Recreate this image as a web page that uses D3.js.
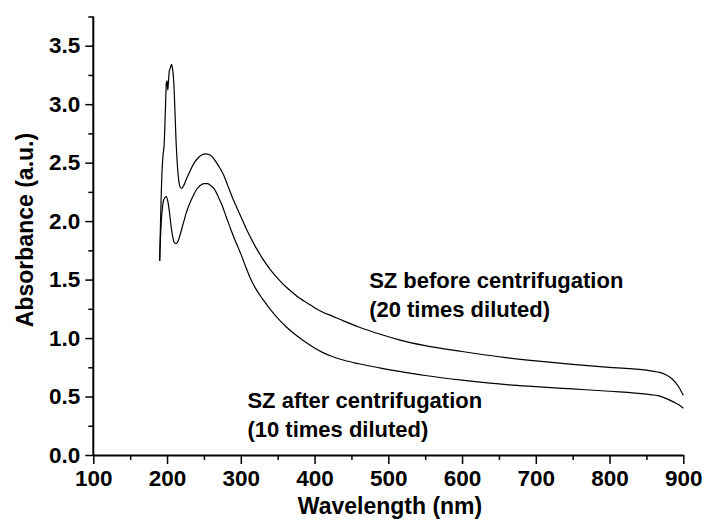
<!DOCTYPE html>
<html>
<head>
<meta charset="utf-8">
<script src="https://cdn.jsdelivr.net/npm/d3@7"></script>
<style>
  body { margin: 0; background: #fff; }
  svg text { font-family: Arial, "Liberation Sans", sans-serif; font-weight: bold; fill: #000; }
</style>
</head>
<body>
<div class="chart"></div>
<script>
// ---------------- DATA

// SZ before centrifugation (20 times diluted)
var wlBefore = [190,191,192,193,194.5,196,197,198,199,200,201,202,203,204.5,206,207.5,209,210.5,212,214,216,218,220,223,227,232,237,242,247,252,257,262,267,272,277,282,290,295,300,310,320,330,340,350,360,370,380,390,400,410,425,440,460,488,515,550,600,650,700,750,800,850,865,875,885,893,900];
var absBefore = [1.66,1.95,2.2,2.4,2.56,2.65,2.8,3.0,3.18,3.2,3.12,3.2,3.28,3.31,3.34,3.3,3.2,2.98,2.72,2.48,2.34,2.29,2.28,2.31,2.37,2.44,2.5,2.54,2.565,2.575,2.57,2.545,2.5,2.45,2.39,2.31,2.18,2.11,2.04,1.9,1.78,1.675,1.585,1.51,1.445,1.39,1.34,1.3,1.26,1.225,1.185,1.145,1.095,1.035,0.985,0.935,0.885,0.84,0.805,0.775,0.75,0.725,0.71,0.69,0.65,0.59,0.51];

// SZ after centrifugation (10 times diluted)
var wlAfter = [190,191,192,193.5,195,197,199,201,203,205,207,209,211,213,215,218,222,226,230,235,240,245,250,255,260,265,270,275,280,285,290,295,300,306,312,320,330,340,350,360,370,380,390,400,410,425,440,460,488,515,550,600,664,700,750,800,850,867,878,888,895,900];
var absAfter = [1.66,1.85,1.98,2.1,2.17,2.2,2.21,2.17,2.09,1.98,1.89,1.83,1.81,1.81,1.83,1.89,1.98,2.07,2.14,2.21,2.27,2.305,2.32,2.32,2.3,2.265,2.2,2.13,2.04,1.955,1.87,1.795,1.72,1.62,1.525,1.425,1.33,1.245,1.17,1.105,1.05,1.0,0.955,0.915,0.88,0.84,0.81,0.78,0.745,0.715,0.68,0.64,0.6,0.585,0.565,0.545,0.52,0.505,0.48,0.45,0.425,0.4];

var xTicks = [100,200,300,400,500,600,700,800,900];
var xMinor = [150,250,350,450,550,650,750,850];
var yTicks = [0,0.5,1,1.5,2,2.5,3,3.5];
var yMinor = [0.25,0.75,1.25,1.75,2.25,2.75,3.25,3.75];

var labels = [
  {wl: 474, a: 1.425, lines: ["SZ before centrifugation", "(20 times diluted)"]},
  {wl: 309, a: 0.4, lines: ["SZ after centrifugation", "(10 times diluted)"]}
];

// ---------------- SVG

var width = 706, height = 520;
var svg = d3.select(".chart").append("svg")
  .attr("width", width)
  .attr("height", height);

var x = d3.scaleLinear().domain([100, 900]).range([93.3, 683.3]);
var y = d3.scaleLinear().domain([0, 3.5]).range([455, 45.7]);

// minor ticks first (axes are drawn on top)
svg.append("g")
  .attr("transform", "translate(0,455)")
  .call(d3.axisBottom(x).tickValues(xMinor).tickSize(5).tickFormat(""))
  .call(function(g){ g.select(".domain").remove(); g.selectAll("line").attr("stroke-width", 1.5); });

svg.append("g")
  .attr("transform", "translate(93.3,0)")
  .call(d3.axisLeft(y).tickValues(yMinor).tickSize(5).tickFormat(""))
  .call(function(g){ g.select(".domain").remove(); g.selectAll("line").attr("stroke-width", 1.5); });

// major axes
var xAxis = svg.append("g")
  .attr("transform", "translate(0,455)")
  .call(d3.axisBottom(x).tickValues(xTicks).tickSize(9).tickSizeOuter(0).tickPadding(6).tickFormat(d3.format("d")));
xAxis.select(".domain").attr("stroke-width", 2);
xAxis.selectAll("line").attr("stroke-width", 1.5);
xAxis.selectAll("text").style("font-size", "22.5px").attr("font-family", null);

var yAxis = svg.append("g")
  .attr("transform", "translate(93.3,0)")
  .call(d3.axisLeft(y).tickValues(yTicks).tickSize(8).tickSizeOuter(0).tickPadding(5).tickFormat(d3.format(".1f")));
yAxis.select(".domain").attr("d", "M0," + y(0) + "V" + y(3.75)).attr("stroke-width", 2);
yAxis.selectAll("line").attr("stroke-width", 1.5);
yAxis.selectAll("text").style("font-size", "22.5px").attr("font-family", null);

// axis titles
svg.append("text")
  .attr("x", 390).attr("y", 514)
  .attr("text-anchor", "middle")
  .style("font-size", "23px")
  .text("Wavelength (nm)");

svg.append("text")
  .attr("transform", "translate(33,230) rotate(-90)")
  .attr("text-anchor", "middle")
  .style("font-size", "23px")
  .text("Absorbance (a.u.)");

// ---------------- CURVES

var line = d3.line()
  .x(function(d){ return x(d[0]); })
  .y(function(d){ return y(d[1]); })
  .curve(d3.curveMonotoneX);

[[wlBefore, absBefore], [wlAfter, absAfter]].forEach(function(s){
  var pts = s[0].map(function(w, i){ return [w, s[1][i]]; });
  svg.append("path")
    .attr("fill", "none")
    .attr("stroke", "#000")
    .attr("stroke-width", 1.2)
    .attr("d", line(pts));
});

// ---------------- ANNOTATIONS

labels.forEach(function(l){
  var t = svg.append("text")
    .attr("x", x(l.wl))
    .attr("y", y(l.a))
    .style("font-size", "22px");
  l.lines.forEach(function(s, i){
    t.append("tspan").attr("x", x(l.wl)).attr("dy", i === 0 ? 0 : 28.5).text(s);
  });
});
</script>
</body>
</html>
